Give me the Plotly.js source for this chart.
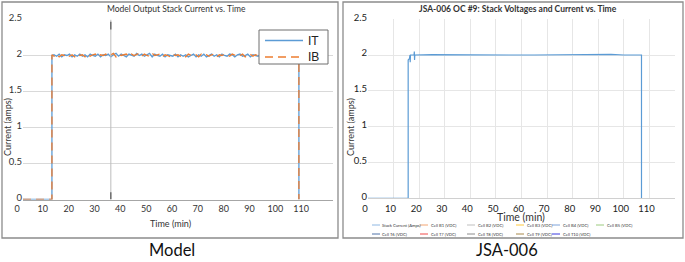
<!DOCTYPE html>
<html><head><meta charset="utf-8">
<script src="https://cdn.plot.ly/plotly-3.0.1.min.js"></script>
<style>html,body{margin:0;padding:0;background:#fff;} #chart{width:685px;height:262px;}</style>
</head><body><div id="chart"></div>
<script>
// ---------------- DATA ----------------
const xTickVals = [0, 10, 20, 30, 40, 50, 60, 70, 80, 90, 100, 110];
const yTickVals = [0, 0.5, 1, 1.5, 2, 2.5];
const yTickText = ['0', '0.5', '1', '1.5', '2', '2.5'];

// Model panel (time in minutes)
const modelTime = [0, 11.2, 11.2,
  12,13,14,15,16,17,18,19,20,21,
  22,23,24,25,26,27,28,29,30,31,
  32,33,34,35,36,37,38,39,40,41,
  42,43,44,45,46,47,48,49,50,51,
  52,53,54,55,56,57,58,59,60,61,
  62,63,64,65,66,67,68,69,70,71,
  72,73,74,75,76,77,78,79,80,81,
  82,83,84,85,86,87,88,89,90,91,
  92,93,94,95,96,97,98,99,100,101,
  102,103,104,105,106,
  106.8, 106.8];
const modelIT = [0, 0, 2.00,
  2.01,1.99,2.02,1.98,2.01,2.00,2.02,1.98,2.01,1.99,
  2.02,1.99,2.01,1.98,2.02,2.00,1.99,2.02,1.98,2.01,
  2.00,2.02,1.98,2.01,2.03,1.99,2.02,2.00,1.98,2.02,
  2.01,1.99,2.03,2.00,2.02,1.99,2.01,2.03,1.98,2.02,
  2.00,1.99,2.02,1.98,2.01,2.00,1.99,2.02,1.98,2.01,
  1.99,2.01,1.98,2.00,2.02,1.98,2.01,1.99,2.02,1.98,
  2.00,2.02,1.99,2.01,1.98,2.02,2.00,1.99,2.02,2.01,
  1.98,2.01,2.02,1.99,2.00,2.02,1.98,2.01,2.00,1.99,
  2.02,1.98,2.01,2.00,1.99,2.02,2.01,1.98,2.00,2.02,
  1.99,2.01,2.00,1.98,2.01,
  2.00, 0];
const modelIB = [0, 0, 2.01,
  1.99,2.02,1.98,2.01,2.00,2.02,1.99,2.01,1.98,2.02,
  2.00,2.01,1.98,2.02,1.99,2.01,2.02,1.98,2.01,2.00,
  2.02,1.99,2.01,2.03,1.98,2.02,2.00,2.01,2.02,1.99,
  2.02,2.00,2.01,2.03,1.99,2.02,2.00,1.99,2.03,2.00,
  2.01,2.02,1.98,2.01,2.00,1.98,2.02,2.00,2.01,1.99,
  2.01,1.98,2.02,2.00,1.99,2.01,1.98,2.02,2.00,2.01,
  1.99,2.01,2.02,1.98,2.01,2.00,2.02,2.01,1.99,2.02,
  2.01,1.99,2.00,2.02,1.98,2.00,2.02,1.99,2.01,2.00,
  1.99,2.01,2.00,2.02,1.98,2.01,1.99,2.02,2.01,1.99,
  2.01,1.98,2.02,2.00,1.99,
  1.99, 0];
const modelSeriesNames = ['IT', 'IB'];
const modelSeriesColors = ['#5B9BD5', '#ED7D31'];
const cursorTime = [34];

// JSA-006 panel
const jsaTime = [0, 15.7, 15.7, 16.2, 16.4, 16.5, 16.6, 18.0, 18.1, 18.2, 18.3,
  25, 35, 45, 55, 65, 75, 85, 95, 100, 106.9, 106.9];
const stackCurrent = [0, 0, 1.93, 1.95, 2.00, 1.90, 2.00, 2.00, 2.05, 1.93, 2.00,
  2.005, 2.00, 2.005, 2.00, 2.00, 2.005, 2.00, 2.01, 2.00, 2.00, 0];

const jsaLegendNames = ['Stack Current (Amps)', 'Cell B1 (VDC)', 'Cell B2 (VDC)', 'Cell B3 (VDC)', 'Cell B4 (VDC)', 'Cell B5 (VDC)',
  'Cell T6 (VDC)', 'Cell T7 (VDC)', 'Cell T8 (VDC)', 'Cell T9 (VDC)', 'Cell T10 (VDC)'];
const jsaLegendColors = ['#8FB8E3', '#F4A572', '#BFBFBF', '#FFC93C', '#7EA3DA', '#9CCB7E',
  '#4E73A8', '#F04A4A', '#8C8C8C', '#A8894A', '#3A3AE0'];

// ---------------- LAYOUT ----------------
const W = 685, H = 262;
const px = v => v / W;
const py = v => 1 - v / H;
const FONT = 'Lato, "Noto Sans", sans-serif';
const ARIAL = '"Liberation Sans", Arial, sans-serif';

const traces = [
  {x: modelTime, y: modelIT, name: modelSeriesNames[0], type: 'scatter', mode: 'lines', xaxis: 'x', yaxis: 'y',
   line: {color: modelSeriesColors[0], width: 1.3}},
  {x: modelTime, y: modelIB, name: modelSeriesNames[1], type: 'scatter', mode: 'lines', xaxis: 'x', yaxis: 'y',
   line: {color: modelSeriesColors[1], width: 1.3, dash: '8px,5px'}},
  {x: jsaTime, y: stackCurrent, name: jsaLegendNames[0], type: 'scatter', mode: 'lines', xaxis: 'x2', yaxis: 'y2',
   line: {color: '#5B9BD5', width: 1.2}}
];

const annotations = [];
const shapes = [];
function ann(text, x, y, size, opts) {
  annotations.push(Object.assign({text: text, x: px(x), y: py(y), xref: 'paper', yref: 'paper',
    showarrow: false, xanchor: 'center', yanchor: 'middle',
    font: {family: FONT, size: size, color: '#333'}}, opts || {}));
}
ann('Model Output Stack Current vs. Time', 176, 9, 8.5);
ann('<b>JSA-006 OC #9: Stack Voltages and Current vs. Time</b>', 518, 9, 8.5);
ann('Current (amps)', 7, 127, 9, {textangle: -90});
ann('Current (amps)', 350, 127, 9, {textangle: -90});
ann('Time (min)', 170, 223, 9);
ann('Time (min)', 521, 217, 10.5);
ann('Model', 172, 250, 16.5, {font: {family: FONT, size: 16.5, color: '#111'}});
ann('JSA-006', 507, 250, 16.5, {font: {family: FONT, size: 16.5, color: '#111'}});

// panel borders
shapes.push({type: 'rect', xref: 'paper', yref: 'paper', x0: px(2), x1: px(338), y0: py(238), y1: py(2),
  line: {color: '#8C8C8C', width: 1.3}});
shapes.push({type: 'rect', xref: 'paper', yref: 'paper', x0: px(343), x1: px(683), y0: py(238), y1: py(2),
  line: {color: '#8C8C8C', width: 1.3}});

// cursor line on model panel
shapes.push({type: 'line', xref: 'x', yref: 'y', x0: cursorTime[0], x1: cursorTime[0], y0: 0, y1: 2.5,
  line: {color: '#BDBDBD', width: 1}});
shapes.push({type: 'line', xref: 'x', yref: 'y', x0: cursorTime[0], x1: cursorTime[0], y0: 2.36, y1: 2.47,
  line: {color: '#555', width: 1.2}});
shapes.push({type: 'line', xref: 'x', yref: 'y', x0: cursorTime[0], x1: cursorTime[0], y0: 0, y1: 0.1,
  line: {color: '#555', width: 1.2}});

// legend box of model panel (drawn above the data)
shapes.push({type: 'rect', xref: 'paper', yref: 'paper', x0: px(259), x1: px(328), y0: py(64), y1: py(30),
  fillcolor: '#fff', line: {color: '#6F6F6F', width: 1}, layer: 'above'});
const modelLegRows = [40.5, 57];
const modelLegDash = ['solid', '8px,5px'];
modelSeriesNames.forEach((nm, i) => {
  shapes.push({type: 'line', xref: 'paper', yref: 'paper', x0: px(265), x1: px(303),
    y0: py(modelLegRows[i]), y1: py(modelLegRows[i]),
    line: {color: modelSeriesColors[i], width: 1.3, dash: modelLegDash[i]}, layer: 'above'});
  annotations.push({text: nm, x: px(305.5), y: py(modelLegRows[i]), xref: 'paper', yref: 'paper', showarrow: false,
    xanchor: 'left', yanchor: 'middle', font: {family: ARIAL, size: 12, color: '#222'}});
});

// small legend of JSA panel
const legCols = [372, 420, 467, 516, 552, 596];
const legRows = [225, 234];
jsaLegendNames.forEach((nm, i) => {
  const r = i < 6 ? 0 : 1;
  const c = i < 6 ? i : i - 6;
  const lx = legCols[c], ly = legRows[r];
  shapes.push({type: 'line', xref: 'paper', yref: 'paper', x0: px(lx), x1: px(lx + 8), y0: py(ly), y1: py(ly),
    line: {color: jsaLegendColors[i], width: 1}});
  annotations.push({text: nm, x: px(lx + 8.5), y: py(ly), xref: 'paper', yref: 'paper', showarrow: false,
    xanchor: 'left', yanchor: 'middle', font: {family: FONT, size: 4.2, color: '#333'}});
});

const tickFont = {family: FONT, size: 9, color: '#333'};
const layout = {
  width: W, height: H, autosize: false,
  margin: {l: 0, r: 0, t: 0, b: 0, pad: 0},
  paper_bgcolor: '#fff', plot_bgcolor: '#fff',
  showlegend: false,
  xaxis: {domain: [px(23), px(333)], range: [0, 120], tickvals: xTickVals, showgrid: false,
    showline: true, linecolor: '#A6A6A6', linewidth: 1, zeroline: false, ticks: '',
    tickfont: tickFont, ticklabelshift: -6, ticklabelstandoff: 1, anchor: 'y', fixedrange: true},
  yaxis: {domain: [py(199.5), py(19.5)], range: [0, 2.5], tickvals: yTickVals, ticktext: yTickText,
    showgrid: true, gridcolor: '#D9D9D9', gridwidth: 1, zeroline: false, showline: false, ticks: '',
    tickfont: {family: FONT, size: 9.5, color: '#333'}, ticklabelshift: -2, anchor: 'x', fixedrange: true},
  xaxis2: {domain: [px(368), px(675)], range: [0, 120], tickvals: xTickVals, showgrid: true,
    gridcolor: '#E6E6E6', showline: true, linecolor: '#D0D0D0', linewidth: 1, zeroline: false, ticks: '',
    tickfont: {family: FONT, size: 9.5, color: '#222'}, ticklabelshift: -3, ticklabelstandoff: 1, anchor: 'y2', fixedrange: true},
  yaxis2: {domain: [py(198.3), py(19.2)], range: [0, 2.5], tickvals: yTickVals, ticktext: yTickText,
    showgrid: true, gridcolor: '#E6E6E6', zeroline: false, showline: false, ticks: '',
    tickfont: {family: FONT, size: 9.5, color: '#222'}, ticklabelshift: -2, anchor: 'x2', fixedrange: true},
  annotations: annotations,
  shapes: shapes
};

Plotly.newPlot('chart', traces, layout, {displayModeBar: false, staticPlot: true});
</script></body></html>
